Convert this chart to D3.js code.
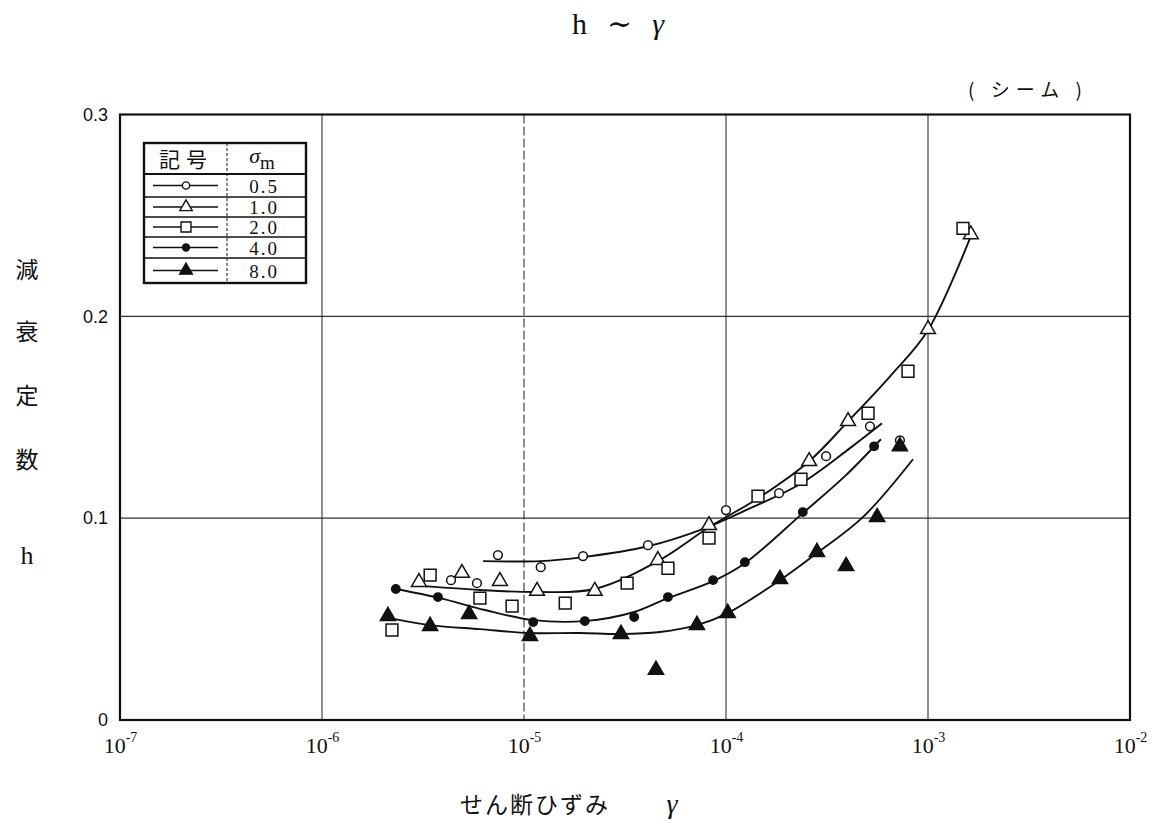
<!DOCTYPE html>
<html><head><meta charset="utf-8">
<script src="https://cdn.jsdelivr.net/npm/d3@7/dist/d3.min.js"></script>
<style>
html,body{margin:0;padding:0;background:#fff;}
svg{display:block;}
</style></head>
<body>
<svg id="chart" width="1167" height="826"></svg>
<script>
// ---------- data ----------
const xTicks = [1e-7, 1e-6, 1e-5, 1e-4, 1e-3, 1e-2];
const xTickExp = ["-7", "-6", "-5", "-4", "-3", "-2"];
const yTicks = [0, 0.1, 0.2, 0.3];
const yTickLabels = ["0", "0.1", "0.2", "0.3"];
const legendLabels = ["0.5", "1.0", "2.0", "4.0", "8.0"];

// sigma_m = 0.5 (open circle)
const g05 = [4.35e-6, 5.85e-6, 7.43e-6, 1.21e-5, 1.96e-5, 4.11e-5, 1.0e-4, 1.83e-4, 3.13e-4, 5.16e-4, 7.26e-4];
const h05 = [0.0693, 0.0678, 0.0817, 0.0757, 0.0812, 0.0866, 0.104, 0.1124, 0.1307, 0.1455, 0.1386];
// sigma_m = 1.0 (open triangle)
const g10 = [3.02e-6, 4.93e-6, 7.60e-6, 1.16e-5, 2.24e-5, 4.60e-5, 8.24e-5, 2.58e-4, 4.02e-4, 1.0e-3, 1.63e-3];
const h10 = [0.0683, 0.0728, 0.0688, 0.0639, 0.0639, 0.0792, 0.0965, 0.1282, 0.148, 0.1936, 0.2406];
// sigma_m = 2.0 (open square)
const g20 = [2.22e-6, 3.43e-6, 6.05e-6, 8.73e-6, 1.60e-5, 3.24e-5, 5.16e-5, 8.24e-5, 1.44e-4, 2.35e-4, 5.05e-4, 7.96e-4, 1.49e-3];
const h20 = [0.0446, 0.0718, 0.0604, 0.0564, 0.0579, 0.0678, 0.0752, 0.0901, 0.1109, 0.1193, 0.152, 0.1728, 0.2436];
// sigma_m = 4.0 (filled circle)
const g40 = [2.32e-6, 3.75e-6, 1.11e-5, 2.00e-5, 3.51e-5, 5.16e-5, 8.63e-5, 1.24e-4, 2.40e-4, 5.41e-4];
const h40 = [0.0649, 0.0609, 0.0485, 0.049, 0.051, 0.0609, 0.0693, 0.0782, 0.103, 0.1356];
// sigma_m = 8.0 (filled triangle)
const g80 = [2.12e-6, 3.43e-6, 5.35e-6, 1.07e-5, 3.02e-5, 4.50e-5, 7.18e-5, 1.02e-4, 1.85e-4, 2.82e-4, 3.93e-4, 5.60e-4, 7.26e-4];
const h80 = [0.0515, 0.0465, 0.0525, 0.0416, 0.0426, 0.0248, 0.047, 0.053, 0.0698, 0.0832, 0.0762, 0.1005, 0.1356];

// fitted curves (hand-drawn in the original)
const cg05 = [6.27e-6, 1.20e-5, 1.96e-5, 4.11e-5, 7.43e-5, 1.32e-4, 2.32e-4, 4.11e-4, 5.92e-4];
const ch05 = [0.0787, 0.0787, 0.0807, 0.0861, 0.0941, 0.105, 0.1168, 0.1347, 0.147];
const cg10 = [2.82e-6, 6.05e-6, 1.16e-5, 2.24e-5, 4.60e-5, 8.24e-5, 1.47e-4, 2.58e-4, 4.02e-4, 6.49e-4, 1.0e-3, 1.65e-3];
const ch10 = [0.0668, 0.0644, 0.0634, 0.0649, 0.0787, 0.0955, 0.1104, 0.1282, 0.148, 0.1703, 0.1931, 0.2411];
const cg40 = [2.32e-6, 3.84e-6, 6.41e-6, 1.11e-5, 2.00e-5, 3.51e-5, 5.16e-5, 8.63e-5, 1.24e-4, 2.40e-4, 3.88e-4, 5.85e-4];
const ch40 = [0.0649, 0.0604, 0.0545, 0.0495, 0.049, 0.0535, 0.0604, 0.0688, 0.0777, 0.1025, 0.1208, 0.1391];
const cg80 = [2.05e-6, 3.43e-6, 6.05e-6, 1.07e-5, 1.89e-5, 3.02e-5, 4.71e-5, 7.18e-5, 1.02e-4, 1.85e-4, 2.82e-4, 4.76e-4, 8.43e-4];
const ch80 = [0.051, 0.047, 0.045, 0.0431, 0.0431, 0.0426, 0.0436, 0.047, 0.053, 0.0693, 0.0827, 0.1005, 0.1292];

// ---------- layout ----------
const svg = d3.select("#chart");
const L = 120, R = 1130, T = 114.5, B = 720;
const x = d3.scaleLog().domain([1e-7, 1e-2]).range([L, R]);
const y = d3.scaleLinear().domain([0, 0.3]).range([B, T]);
const ink = "#111";
const serif = "'Liberation Serif','DejaVu Serif',serif";
const cjk = "'Noto Sans CJK JP','Noto Sans CJK SC',sans-serif";

// grid
const grid = svg.append("g");
grid.selectAll("line.v").data(xTicks.slice(1, -1)).join("line")
  .attr("x1", d => x(d)).attr("x2", d => x(d)).attr("y1", T).attr("y2", B)
  .attr("stroke", "#333").attr("stroke-width", 1.1)
  .attr("stroke-dasharray", d => d === 1e-5 ? "9,3" : null);
grid.selectAll("line.h").data([0.1, 0.2]).join("line")
  .attr("x1", L).attr("x2", R).attr("y1", d => y(d)).attr("y2", d => y(d))
  .attr("stroke", "#333").attr("stroke-width", 1.1);

// frame
svg.append("rect").attr("x", L).attr("y", T).attr("width", R - L).attr("height", B - T)
  .attr("fill", "none").attr("stroke", ink).attr("stroke-width", 2.2);

// axes
const xAxis = svg.append("g").attr("transform", `translate(0,${B})`)
  .call(d3.axisBottom(x).tickValues(xTicks).tickSize(0).tickPadding(22).tickFormat(() => ""));
xAxis.select(".domain").remove();
xAxis.attr("font-size", 22).attr("font-family", serif);
xAxis.selectAll(".tick text").each(function(d, i) {
  const t = d3.select(this).attr("fill", ink).attr("dy", "0.5em");
  t.append("tspan").text("10");
  t.append("tspan").attr("font-size", 14).attr("dy", "-0.8em").text(xTickExp[i]);
});

const yAxis = svg.append("g").attr("transform", `translate(${L},0)`)
  .call(d3.axisLeft(y).tickValues(yTicks).tickSize(0).tickPadding(12).tickFormat((d, i) => yTickLabels[i]));
yAxis.select(".domain").remove();
yAxis.attr("font-size", 18).attr("font-family", "'Liberation Sans Narrow','Liberation Sans',sans-serif");
yAxis.selectAll(".tick text").attr("fill", ink);

// curves
const line = d3.line().x(d => x(d[0])).y(d => y(d[1])).curve(d3.curveCatmullRom.alpha(0.5));
const curves = [[cg05, ch05], [cg10, ch10], [cg40, ch40], [cg80, ch80]];
svg.append("g").selectAll("path").data(curves).join("path")
  .attr("d", c => line(d3.zip(c[0], c[1])))
  .attr("fill", "none").attr("stroke", ink).attr("stroke-width", 1.9);

// markers
const sym = [
  {type: d3.symbolCircle, size: 60, fill: "#fff"},
  {type: d3.symbolTriangle, size: 95, fill: "#fff"},
  {type: d3.symbolSquare, size: 140, fill: "#fff"},
  {type: d3.symbolCircle, size: 55, fill: ink},
  {type: d3.symbolTriangle, size: 100, fill: ink}
];
const series = [[g05, h05], [g10, h10], [g20, h20], [g40, h40], [g80, h80]];
series.forEach((s, i) => {
  svg.append("g").selectAll("path").data(d3.zip(s[0], s[1])).join("path")
    .attr("transform", d => `translate(${x(d[0])},${y(d[1])})`)
    .attr("d", d3.symbol().type(sym[i].type).size(sym[i].size))
    .attr("fill", sym[i].fill).attr("stroke", ink).attr("stroke-width", 1.5);
});

// legend
const lg = svg.append("g");
const lx0 = 144, ly0 = 143, lw = 162, lh = 140;
const rowY = [174, 197, 217, 237, 258, 283];
lg.append("rect").attr("x", lx0).attr("y", ly0).attr("width", lw).attr("height", lh)
  .attr("fill", "#fff").attr("stroke", ink).attr("stroke-width", 2.4);
lg.selectAll("line.r").data(rowY.slice(0, -1)).join("line")
  .attr("x1", lx0).attr("x2", lx0 + lw).attr("y1", d => d).attr("y2", d => d)
  .attr("stroke", ink).attr("stroke-width", (d, i) => i === 0 ? 1.8 : 1.5);
lg.append("line").attr("x1", 227).attr("x2", 227).attr("y1", ly0).attr("y2", ly0 + lh)
  .attr("stroke", ink).attr("stroke-width", 1).attr("stroke-dasharray", "3,2");
lg.append("text").attr("x", 186).attr("y", 167).attr("text-anchor", "middle")
  .attr("font-family", cjk).attr("font-size", 21).attr("fill", ink).attr("letter-spacing", 6).text("記号");
const hdr = lg.append("text").attr("x", 262).attr("y", 163).attr("text-anchor", "middle")
  .attr("font-family", serif).attr("font-size", 22).attr("fill", ink);
hdr.append("tspan").attr("font-style", "italic").text("σ");
hdr.append("tspan").attr("font-size", 19).attr("dy", "0.3em").text("m");
legendLabels.forEach((lab, i) => {
  const cy = (rowY[i] + rowY[i + 1]) / 2;
  lg.append("line").attr("x1", 153).attr("x2", 218).attr("y1", cy).attr("y2", cy)
    .attr("stroke", ink).attr("stroke-width", 1.7);
  lg.append("path").attr("transform", `translate(186,${cy})`)
    .attr("d", d3.symbol().type(sym[i].type).size(sym[i].size * 0.7))
    .attr("fill", sym[i].fill).attr("stroke", ink).attr("stroke-width", 1.4);
  lg.append("text").attr("x", 264).attr("y", cy + 7).attr("text-anchor", "middle")
    .attr("font-family", serif).attr("font-size", 19).attr("letter-spacing", 2).attr("fill", ink).text(lab);
});

// titles
const title = svg.append("text").attr("x", 618).attr("y", 34).attr("text-anchor", "middle")
  .attr("font-family", serif).attr("font-size", 30).attr("fill", ink);
title.append("tspan").text("h");
title.append("tspan").attr("dx", 20).text("∼");
title.append("tspan").attr("dx", 20).attr("font-style", "italic").text("γ");

svg.append("text").attr("x", 1028).attr("y", 97).attr("text-anchor", "middle")
  .attr("font-family", cjk).attr("font-size", 19).attr("fill", ink)
  .attr("letter-spacing", 6).text("( シーム )");

// y label (vertical)
const yl = ["減", "衰", "定", "数"];
const ylY = [278, 340, 404, 468];
yl.forEach((c, i) => svg.append("text").attr("x", 27).attr("y", ylY[i]).attr("text-anchor", "middle")
  .attr("font-family", cjk).attr("font-size", 23).attr("fill", ink).text(c));
svg.append("text").attr("x", 27).attr("y", 564).attr("text-anchor", "middle")
  .attr("font-family", serif).attr("font-size", 26).attr("fill", ink).text("h");

// x label
svg.append("text").attr("x", 535).attr("y", 813).attr("text-anchor", "middle")
  .attr("font-family", cjk).attr("font-size", 23).attr("fill", ink).attr("letter-spacing", 2)
  .text("せん断ひずみ");
svg.append("text").attr("x", 672).attr("y", 813).attr("text-anchor", "middle")
  .attr("font-family", serif).attr("font-size", 28).attr("font-style", "italic").attr("fill", ink).text("γ");
</script>
</body></html>
